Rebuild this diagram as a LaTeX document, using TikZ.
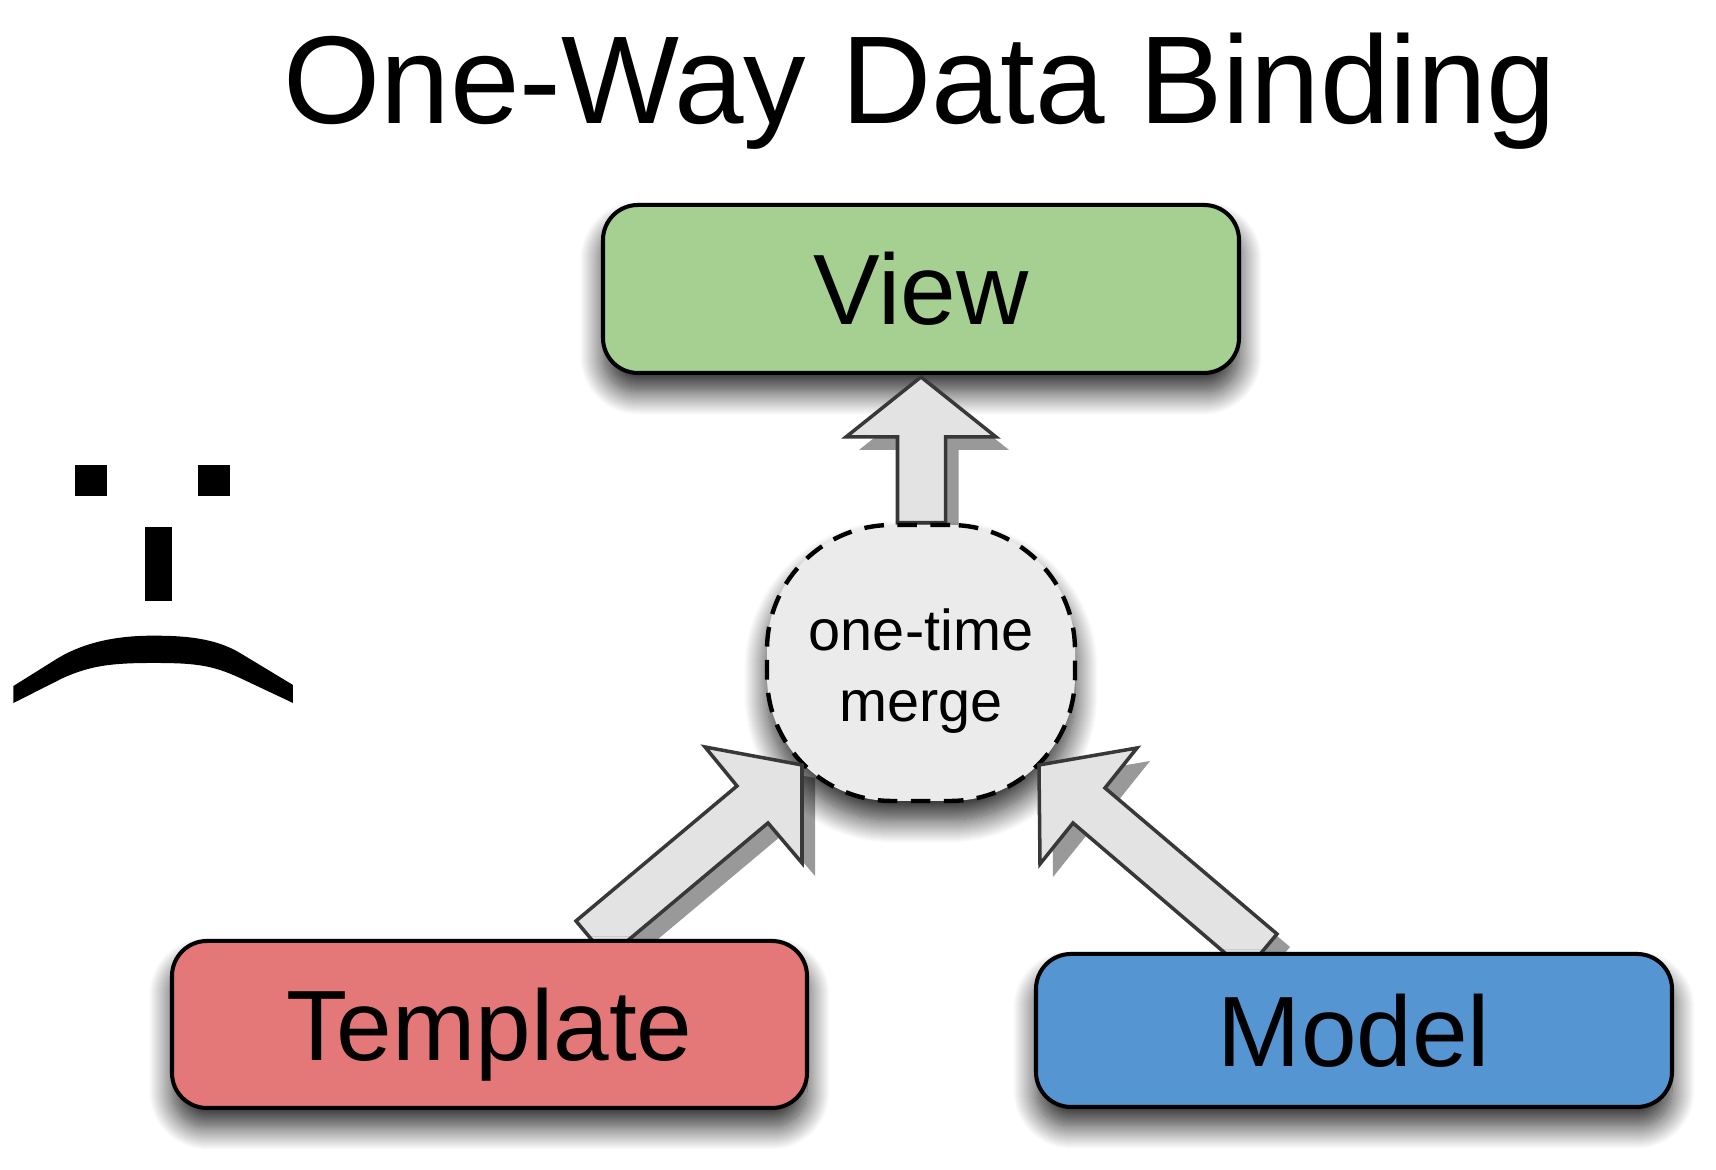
\documentclass[tikz,border=0pt]{standalone}
\usepackage{fontspec}
\setmainfont{Liberation Sans}
\usetikzlibrary{shadows,shadows.blur}
\definecolor{viewgreen}{RGB}{166,208,146}
\definecolor{templatered}{RGB}{228,120,120}
\definecolor{modelblue}{RGB}{85,149,210}
\tikzset{
    softshadow/.style={blur shadow={shadow xshift=0cm,shadow yshift=-0.19cm,shadow blur radius=0.23cm,shadow blur steps=24,shadow opacity=85}},
    box/.style={draw=black,line width=1.15pt,rounded corners=0.35cm,inner sep=0pt,
        text height=0.72cm,text depth=0pt,font=\fontsize{28.45}{34}\selectfont,softshadow},
    fatarrow/.style={draw=black!78,line width=1pt,line join=miter,fill=black!11,
        drop shadow={shadow xshift=0.13cm,shadow yshift=-0.13cm,fill=black,opacity=0.4}}
}
\begin{document}
\begin{tikzpicture}
    \useasboundingbox (0,0) rectangle (17.16,11.7);

    \node[font=\fontsize{35.55}{42}\selectfont,anchor=base] (title) at (9.2,10.46) {One-Way Data Binding};

    %sad face
    \fill (0.75,6.74) rectangle (1.07,7.05);
    \fill (1.98,6.74) rectangle (2.30,7.05);
    \fill (1.45,5.69) rectangle (1.72,6.43);
    \fill (0.135,4.84) -- (0.55,5.10) .. controls (0.85,5.29) and (1.2,5.343) .. (1.53,5.343)
        .. controls (1.85,5.343) and (2.15,5.32) .. (2.40,5.17) -- (2.93,4.85) -- (2.93,4.67)
        -- (2.40,4.92) .. controls (2.12,5.05) and (1.95,5.07) .. (1.53,5.07)
        .. controls (1.10,5.07) and (0.90,5.04) .. (0.63,4.92) -- (0.135,4.67) -- cycle;

    \node[box,fill=viewgreen,minimum width=6.36cm,minimum height=1.68cm] (view) at (9.21,8.81) {View};

    %arrow to view
    \coordinate (A) at (9.21,7.93);
    \coordinate (B) at (9.96,7.33);
    \coordinate (C) at (9.457,7.33);
    \coordinate (D) at (9.457,6.47);
    \coordinate (E) at (8.975,6.47);
    \coordinate (F) at (8.975,7.33);
    \coordinate (G) at (8.46,7.33);
    \draw[fatarrow] (A) -- (B) -- (C) -- (D) -- (E) -- (F) -- (G) -- cycle;

    \node[draw=black,line width=1.25pt,dash pattern=on 5.6pt off 3.8pt,fill=black!8,
        rounded corners=1.25cm,minimum width=3.08cm,minimum height=2.76cm,inner sep=0pt,
        align=center,font=\fontsize{16.4}{20.2}\selectfont,softshadow]
        (merge) at (9.21,5.07) {\rule{0pt}{0.58cm}one-time\\merge};

    %arrow from template
    \coordinate (H) at (8.02,4.05);
    \coordinate (I) at (8.02,3.07);
    \coordinate (J) at (7.68,3.47);
    \coordinate (K) at (6.07,2.12);
    \coordinate (L) at (5.76,2.49);
    \coordinate (M) at (7.37,3.84);
    \coordinate (N) at (7.05,4.23);
    \draw[fatarrow] (H) -- (I) -- (J) -- (K) -- (L) -- (M) -- (N) -- cycle;

    %arrow from model
    \coordinate (O) at (10.39,4.05);
    \coordinate (P) at (11.37,4.22);
    \coordinate (Q) at (11.05,3.82);
    \coordinate (R) at (12.77,2.36);
    \coordinate (S) at (12.46,1.99);
    \coordinate (T) at (10.73,3.47);
    \coordinate (U) at (10.40,3.06);
    \draw[fatarrow] (O) -- (P) -- (Q) -- (R) -- (S) -- (T) -- (U) -- cycle;

    \node[box,fill=templatered,minimum width=6.35cm,minimum height=1.67cm] (template) at (4.895,1.455) {Template};
    \node[box,fill=modelblue,minimum width=6.36cm,minimum height=1.53cm] (model) at (13.54,1.395) {Model};

\end{tikzpicture}
\end{document}
